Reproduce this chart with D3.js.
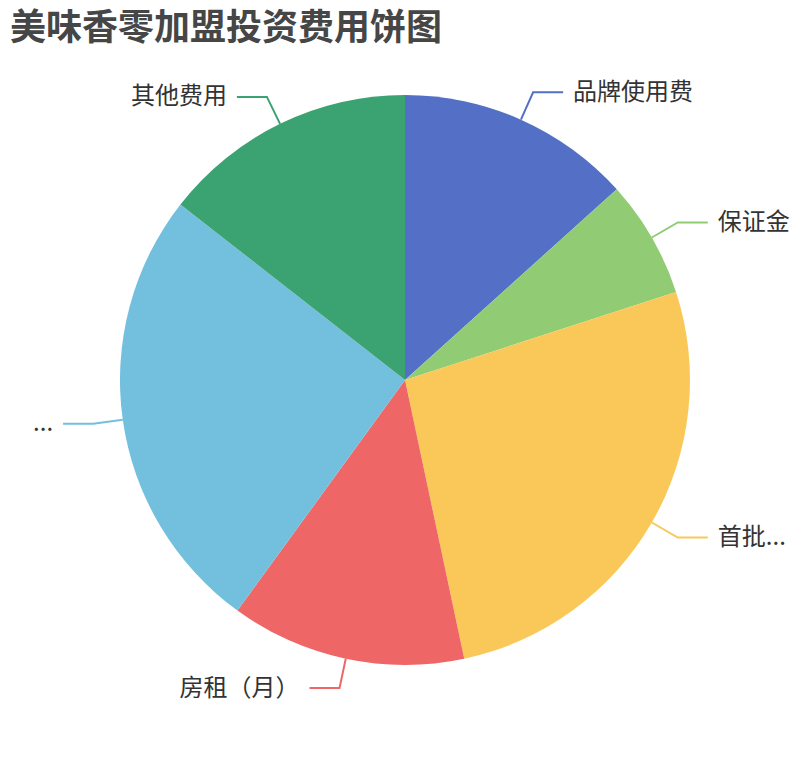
<!DOCTYPE html>
<html>
<head>
<meta charset="utf-8">
<script src="https://cdn.jsdelivr.net/npm/d3@7.9.0/dist/d3.min.js"></script>
<style>
  html, body { margin: 0; padding: 0; background: #fff; }
  #chart { width: 810px; height: 760px; }
  text { font-family: "Noto Sans CJK SC", "Noto Sans", sans-serif; }
</style>
</head>
<body>
<div id="chart"></div>
<script>
// pie slices, clockwise from 12 o'clock (labels as shown, long ones already cut)
const categories = ['品牌使用费', '保证金', '首批...', '房租（月）', '...', '其他费用'];
const values = [12000, 6000, 24000, 12000, 23000, 13000];
const colors = ['#5470c6', '#91cc75', '#fac858', '#ee6666', '#73c0de', '#3ba272'];

const titleText = '美味香零加盟投资费用饼图';

const width = 810, height = 760;
const cx = 405, cy = 380;
const radius = 285;
const len1 = 30, len2 = 30;

const svg = d3.select('#chart').append('svg')
  .attr('width', width)
  .attr('height', height);

// title
svg.append('text')
  .attr('x', 10)
  .attr('y', 24)
  .attr('dominant-baseline', 'central')
  .style('font-size', '36px')
  .style('font-weight', 'bold')
  .style('fill', '#464646')
  .text(titleText);

const rows = categories.map((c, i) => ({ name: c, value: values[i], color: colors[i] }));

const pie = d3.pie()
  .sort(null)
  .value(d => d.value);

const arcs = pie(rows);

const arc = d3.arc().innerRadius(0).outerRadius(radius);
const edge = d3.arc().innerRadius(radius).outerRadius(radius);
const outer = d3.arc().innerRadius(radius + len1).outerRadius(radius + len1);

const g = svg.append('g')
  .attr('transform', `translate(${cx},${cy})`);

g.selectAll('path.slice')
  .data(arcs)
  .join('path')
  .attr('class', 'slice')
  .attr('d', arc)
  .attr('fill', d => d.data.color);

// label lines
const side = d => ((d.startAngle + d.endAngle) / 2 < Math.PI ? 1 : -1);

g.selectAll('polyline.guide')
  .data(arcs)
  .join('polyline')
  .attr('class', 'guide')
  .attr('fill', 'none')
  .attr('stroke', d => d.data.color)
  .attr('stroke-width', 2)
  .attr('points', d => {
    const a = edge.centroid(d);
    const b = outer.centroid(d);
    const c = [b[0] + side(d) * len2, b[1]];
    return [a, b, c].map(p => p.join(',')).join(' ');
  });

// labels
g.selectAll('text.label')
  .data(arcs)
  .join('text')
  .attr('class', 'label')
  .attr('x', d => outer.centroid(d)[0] + side(d) * (len2 + 10))
  .attr('y', d => outer.centroid(d)[1] - 3)
  .attr('dominant-baseline', 'central')
  .attr('text-anchor', d => side(d) > 0 ? 'start' : 'end')
  .style('font-size', '24px')
  .style('fill', '#333')
  .text(d => d.data.name);
</script>
</body>
</html>
